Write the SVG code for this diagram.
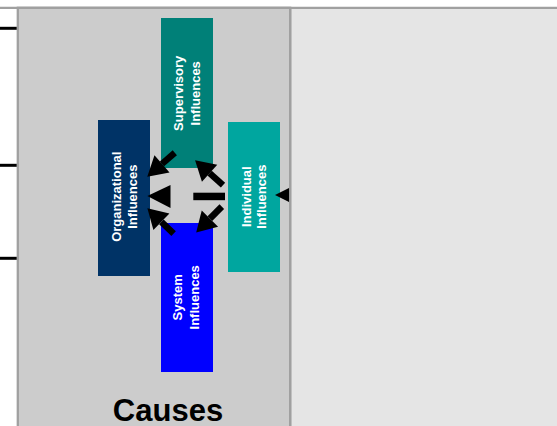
<svg xmlns="http://www.w3.org/2000/svg" width="557" height="426" viewBox="0 0 557 426">
  <defs>
    <style>
      .lbl { font-family: "Liberation Sans", Arial, sans-serif; font-weight: bold; font-size: 13px; fill: #ffffff; text-anchor: middle; }
      .title { font-family: "Liberation Sans", Arial, sans-serif; font-weight: bold; font-size: 31px; fill: #000000; text-anchor: middle; }
      .shaft { stroke: #000000; stroke-width: 6.5; fill: none; marker-end: url(#head); }
      .edge { stroke: #000000; stroke-width: 3; }
    </style>
    <marker id="head" markerUnits="userSpaceOnUse" markerWidth="20" markerHeight="24" refX="0" refY="11.5" orient="auto" viewBox="0 0 20 24" overflow="visible">
      <path d="M0,0 L19.5,11.5 L0,23 Z" fill="#000000"/>
    </marker>
  </defs>

  <rect x="0" y="0" width="557" height="426" fill="#ffffff"/>

  <!-- panels -->
  <rect x="291.3" y="8.9" width="266" height="420" fill="#e5e5e5"/>
  <rect x="17.8" y="7.8" width="272.4" height="430" fill="#cccccc" stroke="#a0a0a0" stroke-width="2.3"/>
  <line x1="0" y1="7.8" x2="557" y2="7.8" stroke="#a0a0a0" stroke-width="2.3"/>

  <!-- stubs of outer lines at left edge -->
  <g id="left-edge-lines">
    <line class="edge" x1="0" y1="28.3" x2="16.7" y2="28.3"/>
    <line class="edge" x1="0" y1="165.3" x2="16.7" y2="165.3" stroke-width="2.6"/>
    <line class="edge" x1="0" y1="258.3" x2="16.7" y2="258.3" stroke-width="4.5"/>
  </g>

  <g id="node-supervisory">
    <rect x="161" y="18" width="52" height="150" fill="#008078"/>
    <text class="lbl" transform="translate(183.3,93.3) rotate(-90)">Supervisory</text>
    <text class="lbl" transform="translate(200,93.3) rotate(-90)">Influences</text>
  </g>

  <g id="node-organizational">
    <rect x="98" y="120" width="52" height="156" fill="#003366"/>
    <text class="lbl" transform="translate(120.5,196.7) rotate(-90)">Organizational</text>
    <text class="lbl" transform="translate(137,196.7) rotate(-90)">Influences</text>
  </g>

  <g id="node-individual">
    <rect x="228" y="122" width="52" height="150" fill="#00a69f"/>
    <text class="lbl" transform="translate(250.5,196.7) rotate(-90)">Individual</text>
    <text class="lbl" transform="translate(266,196.7) rotate(-90)">Influences</text>
  </g>

  <g id="node-system">
    <rect x="161" y="223" width="52" height="149" fill="#0000ff"/>
    <text class="lbl" transform="translate(182.3,297.3) rotate(-90)">System</text>
    <text class="lbl" transform="translate(199,297.3) rotate(-90)">Influences</text>
  </g>

  <g id="connectors">
    <line class="shaft" x1="174.8" y1="152.8" x2="162" y2="163.9"/>
    <line class="shaft" x1="223" y1="185.2" x2="209.6" y2="173.2"/>
    <line class="shaft" x1="221.8" y1="206.6" x2="209.9" y2="218.6"/>
    <line class="shaft" x1="173.6" y1="233.6" x2="161.4" y2="221.8"/>
    <polygon points="147.3,196 170.5,185 170.5,208" fill="#000000"/>
    <rect x="193.3" y="192.7" width="31.7" height="7.5" fill="#000000"/>
    <polygon points="275,195 290,187.5 290,202.5" fill="#000000"/>
  </g>

  <line x1="290.2" y1="8.9" x2="290.2" y2="426" stroke="#a0a0a0" stroke-width="2.3"/>

  <text class="title" x="168" y="420.7">Causes</text>
</svg>
